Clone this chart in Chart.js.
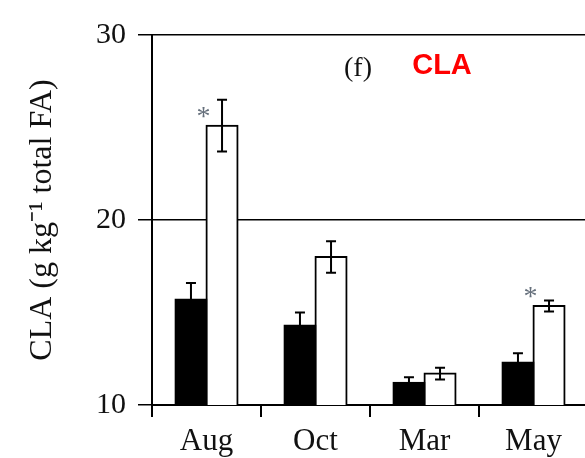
<!DOCTYPE html>
<html>
<head>
<meta charset="utf-8">
<script src="https://cdn.jsdelivr.net/npm/chart.js@4.4.1/dist/chart.umd.min.js"></script>
<style>
  html, body { margin: 0; padding: 0; background: #fff; overflow: hidden; }
  #wrap { width: 590px; height: 458px; }
</style>
</head>
<body>
<div id="wrap"><canvas id="cla-chart" width="590" height="458"></canvas></div>
<script>
// values (g/kg total FA)
let months = ['Aug', 'Oct', 'Mar', 'May'];
let blackMeans = [15.7, 14.3, 11.2, 12.3];
let blackErrs = [0.9, 0.7, 0.3, 0.5];
let whiteMeans = [25.1, 18.0, 11.7, 15.35];
let whiteErrs = [1.4, 0.85, 0.32, 0.3];
let significant = [true, false, false, true];
let yTicks = [10, 20, 30];

const serif = '"Liberation Serif", "Times New Roman", serif';
const ink = '#111';

// error bars + asterisks + panel label
const errorBarPlugin = {
  id: 'errorBars',
  afterDatasetsDraw(chart) {
    const ctx = chart.ctx;
    const y = chart.scales.y;
    const errs = [blackErrs, whiteErrs];
    ctx.save();
    ctx.strokeStyle = '#000';
    ctx.lineWidth = 2;
    chart.data.datasets.forEach((ds, di) => {
      const meta = chart.getDatasetMeta(di);
      meta.data.forEach((bar, i) => {
        const v = ds.data[i];
        const e = errs[di][i];
        const top = y.getPixelForValue(v + e);
        const bot = y.getPixelForValue(v - e);
        const cap = 5;
        ctx.beginPath();
        ctx.moveTo(bar.x, top);
        ctx.lineTo(bar.x, bot);
        ctx.moveTo(bar.x - cap, top);
        ctx.lineTo(bar.x + cap, top);
        ctx.moveTo(bar.x - cap, bot);
        ctx.lineTo(bar.x + cap, bot);
        ctx.stroke();
      });
    });
    // asterisks next to white bars
    const wmeta = chart.getDatasetMeta(1);
    ctx.fillStyle = '#66707c';
    ctx.font = '28px ' + serif;
    ctx.textAlign = 'center';
    ctx.textBaseline = 'middle';
    wmeta.data.forEach((bar, i) => {
      if (!significant[i]) return;
      const yy = y.getPixelForValue(whiteMeans[i]);
      ctx.fillText('*', bar.x - bar.width / 2 - 3, yy - 8);
    });
    // panel label
    ctx.fillStyle = ink;
    ctx.font = '28px ' + serif;
    ctx.fillText('(f)', 358, 69);
    ctx.fillStyle = '#ff0000';
    ctx.font = 'bold 29px "Liberation Sans", Arial, sans-serif';
    ctx.fillText('CLA', 442, 66);
    ctx.restore();
  }
};

new Chart(document.getElementById('cla-chart').getContext('2d'), {
  type: 'bar',
  data: {
    labels: months,
    datasets: [
      {
        data: blackMeans,
        backgroundColor: '#000',
        borderColor: '#000',
        borderWidth: 2,
        inflateAmount: 1
      },
      {
        data: whiteMeans,
        backgroundColor: '#fff',
        borderColor: '#000',
        borderWidth: 2,
        inflateAmount: 1
      }
    ]
  },
  options: {
    responsive: false,
    animation: false,
    categoryPercentage: 0.57,
    barPercentage: 1.0,
    layout: { padding: { top: 35, left: 0, right: 2, bottom: 0 } },
    plugins: {
      legend: { display: false },
      tooltip: { enabled: false }
    },
    scales: {
      x: {
        offset: true,
        grid: {
          offset: true,
          drawOnChartArea: false,
          drawTicks: true,
          tickLength: 12,
          color: '#000',
          lineWidth: 2
        },
        border: { display: true, color: '#000', width: 2 },
        ticks: {
          color: ink,
          padding: 6,
          font: { family: serif, size: 31 }
        },
        afterFit(scale) { scale.height = 53; }
      },
      y: {
        min: 10,
        max: 30,
        afterBuildTicks(scale) { scale.ticks = yTicks.map(v => ({ value: v })); },
        grid: {
          drawTicks: true,
          tickLength: 14,
          color: '#000',
          lineWidth: 1.5
        },
        border: { display: true, color: '#000', width: 2 },
        ticks: {
          color: ink,
          padding: 12,
          font: { family: serif, size: 30 }
        },
        title: {
          display: true,
          text: 'CLA (g kg\u207B\u00B9 total FA)',
          color: ink,
          font: { family: serif, size: 32 },
          padding: { top: 23, bottom: 0 }
        },
        afterFit(scale) { scale.width = 152; }
      }
    }
  },
  plugins: [errorBarPlugin]
});
</script>
</body>
</html>
